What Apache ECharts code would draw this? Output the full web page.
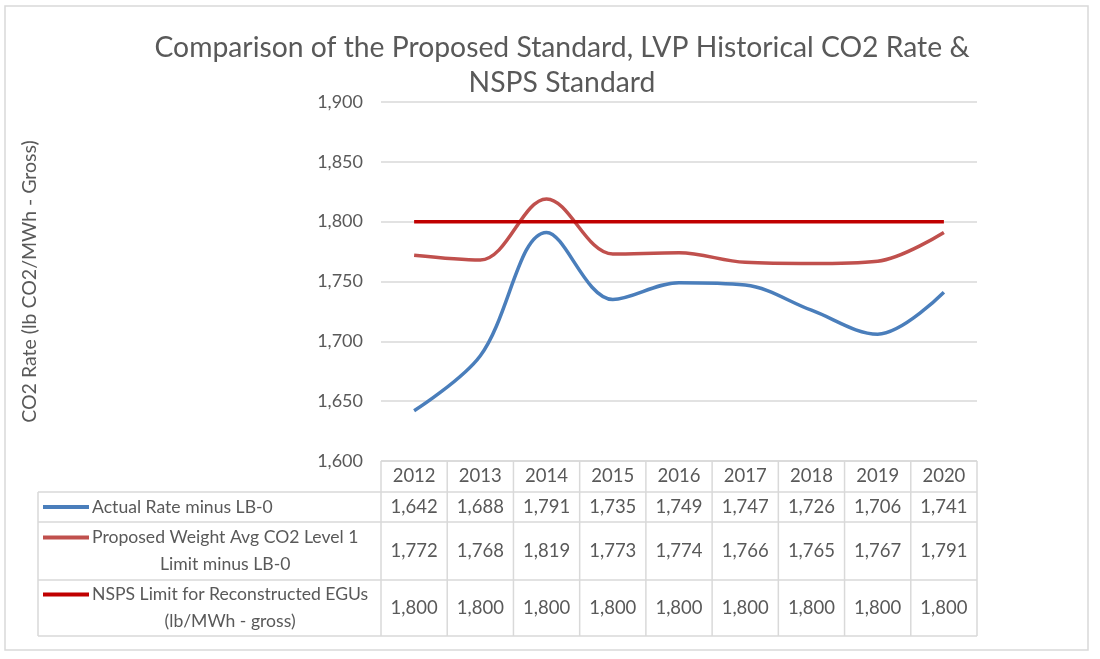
<!DOCTYPE html>
<html>
<head>
<meta charset="utf-8">
<script src="https://cdn.jsdelivr.net/npm/echarts@6/dist/echarts.min.js"></script>
<style>
html,body{margin:0;padding:0;background:#fff;}
#chart{width:1100px;height:659px;}
</style>
</head>
<body>
<div id="chart"></div>
<script>
const titleText = 'Comparison of the Proposed Standard, LVP Historical CO2 Rate &\nNSPS Standard';
const yAxisTitle = 'CO2 Rate (lb CO2/MWh - Gross)';
const years = ['2012','2013','2014','2015','2016','2017','2018','2019','2020'];
const actualRate = [1642,1688,1791,1735,1749,1747,1726,1706,1741];
const proposedLimit = [1772,1768,1819,1773,1774,1766,1765,1767,1791];
const nspsLimit = [1800,1800,1800,1800,1800,1800,1800,1800,1800];
const seriesNames = [
  'Actual Rate minus LB-0',
  'Proposed Weight Avg CO2 Level 1\nLimit minus LB-0',
  'NSPS Limit for Reconstructed EGUs\n(lb/MWh - gross)'
];
const seriesData = [actualRate, proposedLimit, nspsLimit];
const seriesColors = ['#4a7ebb', '#c0504d', '#c00000'];
const yMin = 1600, yMax = 1900, yStep = 50;

const FONT = 'Lato';
const TXT = '#595959';
const GRIDC = '#d9d9d9';
const TFS = 18.5;
const LFS = 17.6;

const chart = echarts.init(document.getElementById('chart'), null, {renderer: 'canvas'});
const gridLeft = 381, gridRight = 123, gridTop = 102, gridBottom = 198;

chart.setOption({
  backgroundColor: '#ffffff',
  animation: false,
  title: {
    text: titleText,
    left: 557, top: 25, textAlign: 'center',
    textStyle: {fontFamily: FONT, fontSize: 28.3, fontWeight: 'normal', color: TXT, lineHeight: 35}
  },
  grid: {left: gridLeft, right: gridRight, top: gridTop, bottom: gridBottom, containLabel: false},
  xAxis: {
    type: 'category', data: years, boundaryGap: true,
    axisLine: {show: false}, axisTick: {show: false}, axisLabel: {show: false}, splitLine: {show: false}
  },
  yAxis: {
    type: 'value', min: yMin, max: yMax, interval: yStep,
    name: yAxisTitle, nameLocation: 'middle', nameGap: 341, nameRotate: 90,
    nameTextStyle: {fontFamily: FONT, fontSize: 19.5, color: TXT},
    axisLine: {show: false}, axisTick: {show: false},
    axisLabel: {fontFamily: FONT, fontSize: 18, color: TXT, margin: 18,
      formatter: v => v.toLocaleString('en-US')},
    splitLine: {lineStyle: {color: GRIDC, width: 1.5}}
  },
  series: seriesData.map((d, i) => ({
    type: 'line', name: seriesNames[i], data: d,
    smooth: i === 2 ? false : 0.35, symbol: 'none',
    lineStyle: {color: seriesColors[i], width: 3.5},
    z: i === 2 ? 3 : 2
  }))
});

function fmt(v){ return v.toLocaleString('en-US'); }
const c0 = chart.convertToPixel({xAxisIndex: 0}, 0);
const c1 = chart.convertToPixel({xAxisIndex: 0}, 1);
const band = c1 - c0;
const tableTop = chart.convertToPixel({yAxisIndex: 0}, yMin);
const tableLeft = 38;
const headerH = 31;
const rowH = [30, 58, 56];
const colLeft = c0 - band / 2;
const colRight = chart.convertToPixel({xAxisIndex: 0}, years.length - 1) + band / 2;
const tableH = headerH + rowH.reduce((a, b) => a + b, 0);

const g = [];
const line = (x1, y1, x2, y2) => g.push({type: 'line', shape: {x1, y1, x2, y2},
  style: {stroke: GRIDC, lineWidth: 1.5}, silent: true});
g.push({type: 'rect', shape: {x: 5, y: 6, width: 1083, height: 644},
  style: {fill: 'none', stroke: GRIDC, lineWidth: 1.5}, silent: true, z: -1});

let y = tableTop;
line(colLeft, y, colRight, y);
years.forEach((yr, i) => {
  const cx = chart.convertToPixel({xAxisIndex: 0}, i);
  g.push({type: 'text', x: cx, y: y + headerH / 2,
    style: {text: yr, font: TFS + 'px ' + FONT, fill: TXT, align: 'center', verticalAlign: 'middle'}});
});
for (let i = 0; i <= years.length; i++) {
  const x = colLeft + i * band;
  line(x, y, x, y + tableH);
}
y += headerH;
line(tableLeft, y, colRight, y);
line(tableLeft, y, tableLeft, tableTop + tableH);

const measure = document.createElement('canvas').getContext('2d');
measure.font = LFS + 'px ' + FONT;

seriesData.forEach((d, r) => {
  const h = rowH[r];
  const cy = y + h / 2;
  d.forEach((v, i) => {
    const cx = chart.convertToPixel({xAxisIndex: 0}, i);
    g.push({type: 'text', x: cx, y: cy,
      style: {text: fmt(v), font: TFS + 'px ' + FONT, fill: TXT, align: 'center', verticalAlign: 'middle'}});
  });
  const lines = seriesNames[r].split('\n');
  const lh = 27;
  const w = Math.max(...lines.map(s => measure.measureText(s).width));
  const textX = 92;
  const firstLineY = cy - (lines.length - 1) * lh / 2;
  g.push({type: 'line', shape: {x1: 43, y1: firstLineY, x2: 89, y2: firstLineY},
    style: {stroke: seriesColors[r], lineWidth: 4}, silent: true});
  g.push({type: 'text', x: textX + w / 2, y: cy,
    style: {text: seriesNames[r], font: LFS + 'px ' + FONT, fill: TXT, align: 'center',
      verticalAlign: 'middle', lineHeight: lh}});
  y += h;
  line(tableLeft, y, colRight, y);
});

chart.setOption({graphic: g});
</script>
</body>
</html>
